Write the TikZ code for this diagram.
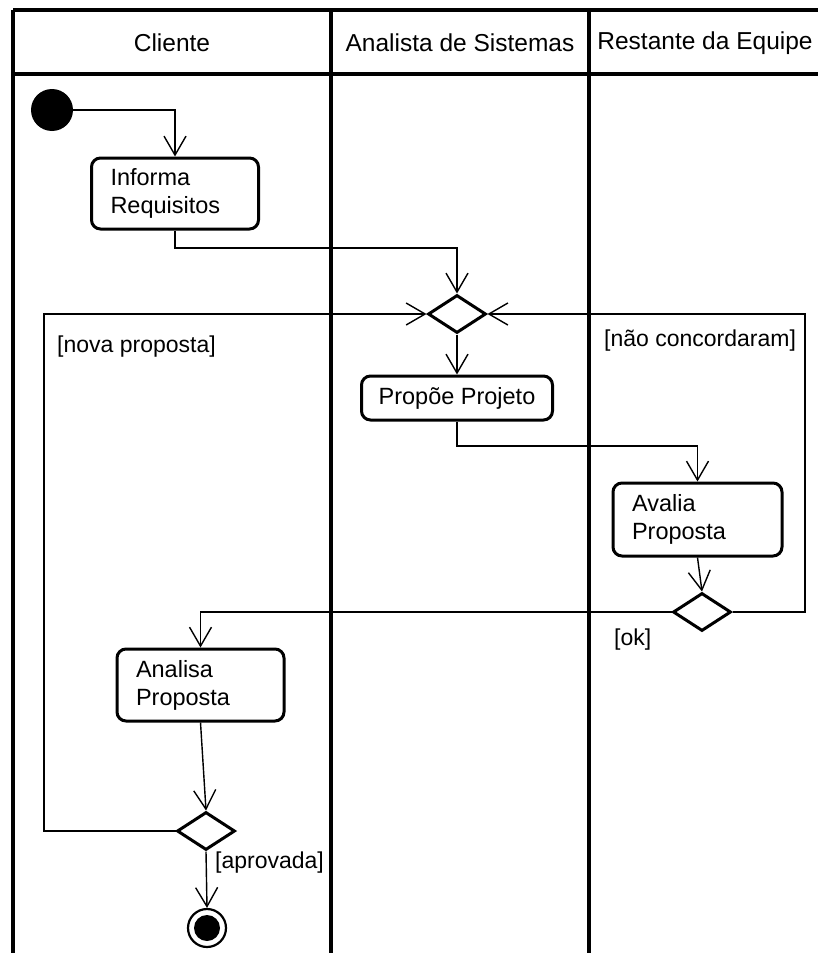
\documentclass[tikz,border=0pt]{standalone}
\usepackage{fontspec}
\setmainfont{Liberation Sans}
\usetikzlibrary{shapes.geometric,arrows.meta,calc}
\begin{document}
\begin{tikzpicture}[x=1pt,y=-1pt,
  font=\fontsize{23.5}{28}\selectfont,
  lane/.style={line width=3.5pt},
  header/.style={font=\fontsize{24.5}{29}\selectfont},
  actbox/.style={draw, rounded corners=9pt, line width=3pt, inner sep=0pt},
  multibox/.style={actbox, align=left, inner xsep=19pt, text width=#1},
  decision/.style={draw, diamond, line width=3pt, minimum width=58pt, minimum height=38pt, inner sep=0pt},
  flow/.style={line width=1.4pt, ->, >={Straight Barb[length=19pt,width=22pt,line width=1.4pt]}},
  guard/.style={anchor=west, inner sep=0pt, font=\fontsize{23}{28}\selectfont}]
\useasboundingbox (0,0) rectangle (818,953);
\fill[white] (0,0) rectangle (818,953);

% swimlane frame
\draw[lane] (13,10) -- (818,10);
\draw[lane] (13,74) -- (818,74);
\draw[lane] (13,10) -- (13,953);
\draw[lane] (331,10) -- (331,953);
\draw[lane] (589,10) -- (589,953);
\node[header] (h1) at (172,43) {Cliente};
\node[header] (h2) at (460,43) {Analista de Sistemas};
\node[header] (h3) at (705,43) {Restante da Equipe};

% nodes
\node[circle, fill, minimum size=42pt, inner sep=0pt] (init) at (52,110) {};
\node[multibox=129pt, minimum height=71pt] (inf) at (175,193.5) {Informa\\Requisitos};
\node[decision] (d1) at (457,314) {};
\node[actbox, minimum width=191pt, minimum height=44pt] (prop) at (457,398) {Propõe Projeto};
\node[multibox=131pt, minimum height=73pt] (ava) at (697.5,519.5) {Avalia\\Proposta};
\node[decision] (d2) at (702,612) {};
\node[multibox=129pt, minimum height=72pt] (ana) at (200.5,685) {Analisa\\Proposta};
\node[decision] (d3) at (206,831) {};
\node[circle, draw, line width=2.2pt, minimum size=38pt, inner sep=0pt] (fin) at (207,928) {};
\fill (fin) circle (13pt);

% helper coordinates for the routed connectors
\coordinate (j1) at (457,248);
\coordinate (j2) at (697.5,446);
\coordinate (rr) at (805,0);
\coordinate (ll) at (44,0);

% connectors
\draw[flow] (init.east) -| (inf.north);
\draw[flow] (inf.south) |- (j1) -- (d1.north);
\draw[flow] (d1.south) -- (prop.north);
\draw[flow] (prop.south) |- (j2) -- (ava.north);
\draw[flow] (ava.south) -- (d2.north);
\draw[flow] (d2.west) -| (ana.north);
\draw[flow] (d2.east) -| (rr |- d1.east) -- (d1.east);
\draw[flow] (d3.west) -| (ll |- d1.west) -- (d1.west);
\draw[flow] (ana.south) -- (d3.north);
\draw[flow] (d3.south) -- (fin.north);

% guards
\node[guard] (g1) at (57,347) {[nova proposta]};
\node[guard] (g2) at (604,341) {[não concordaram]};
\node[guard] (g3) at (614,640) {[ok]};
\node[guard] (g4) at (215,863) {[aprovada]};
\end{tikzpicture}
\end{document}
